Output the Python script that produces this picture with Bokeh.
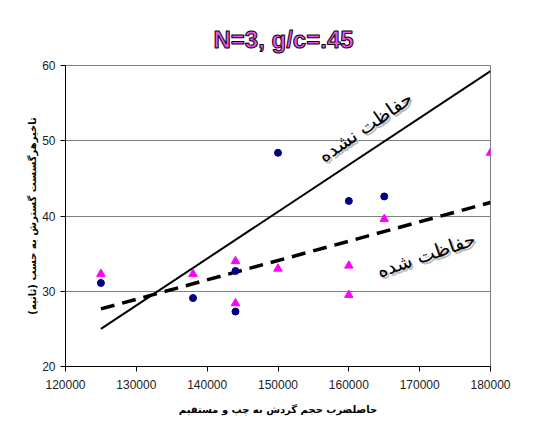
from bokeh.plotting import figure
from bokeh.models import Label, FixedTicker, BasicTickFormatter, Title
from bokeh.embed import file_html
from bokeh.resources import INLINE

# data
x_unprot = [125000, 138000, 144000, 144000, 150000, 160000, 165000]
y_unprot = [31.1, 29.1, 32.7, 27.3, 48.4, 42.0, 42.6]
x_prot = [125000, 138000, 144000, 144000, 150000, 160000, 160000, 165000, 180000]
y_prot = [32.3, 32.3, 34.0, 28.4, 33.0, 33.4, 29.5, 39.6, 48.4]
trend_x = [125000, 180000]
trend_unprot = [25.0, 59.25]
trend_prot = [27.65, 41.8]
x_ticks = [120000, 130000, 140000, 150000, 160000, 170000, 180000]
y_ticks = [20, 30, 40, 50, 60]
title_text = "N=3, g/c=.45"
lbl_unprot = "حفاظت نشده"
lbl_prot = "حفاظت شده"
x_title = "حاصلضرب حجم گردش به چپ و مستقیم"
y_title = "تاخیرهرگسست گسترش به حسب (ثانیه)"

W, H = 534, 424
p = figure(width=W, height=H, frame_width=425, frame_height=301,
           min_border_left=65, min_border_top=65, min_border_right=44, min_border_bottom=58,
           x_range=(120000, 180000), y_range=(20, 60),
           output_backend="svg", toolbar_location=None)

p.title = Title(text=title_text, align="left", offset=148, standoff=25,
                text_font="Liberation Sans", text_font_size="24px", text_font_style="bold",
                text_color="#ee55ee", text_outline_color="black")

p.outline_line_color = "#808080"
p.outline_line_width = 1
p.xgrid.visible = False
p.ygrid.grid_line_color = "#808080"
p.ygrid.grid_line_width = 1
p.ygrid.ticker = FixedTicker(ticks=y_ticks)

for ax in (p.xaxis[0], p.yaxis[0]):
    ax.axis_line_color = "black"
    ax.major_tick_line_color = "black"
    ax.major_tick_out = 5
    ax.major_tick_in = 0
    ax.minor_tick_line_color = None
    ax.major_label_text_font = "Liberation Sans"
    ax.major_label_text_font_size = "12px"
    ax.major_label_text_color = "#222222"
    ax.axis_label_text_font = "DejaVu Sans"
    ax.axis_label_text_font_size = "10px"
    ax.axis_label_text_font_style = "bold"
    ax.axis_label_text_color = "black"

p.xaxis.ticker = FixedTicker(ticks=x_ticks)
p.yaxis.ticker = FixedTicker(ticks=y_ticks)
p.xaxis.formatter = BasicTickFormatter(use_scientific=False)
p.xaxis.major_label_standoff = 8
p.xaxis.axis_label = x_title
p.xaxis.axis_label_standoff = 12
p.yaxis.axis_label = y_title
p.yaxis.axis_label_standoff = 1

p.line(trend_x, trend_unprot, line_color="black", line_width=2)
p.line(trend_x, trend_prot, line_color="black", line_width=3.5, line_dash="14 8")
p.scatter(x_unprot, y_unprot, marker="circle", size=7, fill_color="#000080", line_color="#000080")
p.scatter(x_prot, y_prot, marker="triangle", size=8.5, fill_color="#FF00FF", line_color="#FF00FF")

# rotated line labels with shadow
for txt, xx, yy, ang in ((lbl_unprot, 162300, 51.9, 0.60), (lbl_prot, 170900, 34.9, 0.33)):
    p.add_layout(Label(x=xx, y=yy, x_offset=2, y_offset=-2, text=txt, angle=ang,
                       text_align="center", text_baseline="middle",
                       text_font="DejaVu Sans", text_font_size="19px", text_color="#bbbbbb"))
    p.add_layout(Label(x=xx, y=yy, text=txt, angle=ang,
                       text_align="center", text_baseline="middle",
                       text_font="DejaVu Sans", text_font_size="19px", text_color="black"))

open("out.html", "w").write(file_html(p, INLINE))
